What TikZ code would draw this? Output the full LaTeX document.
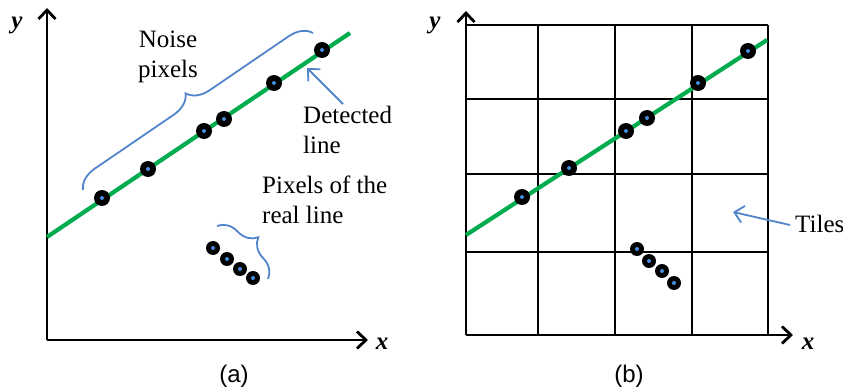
\documentclass[tikz,border=0pt]{standalone}
\usepackage{fontspec}
\setmainfont{Liberation Serif}
\newfontfamily\capfont{Liberation Sans}
\usetikzlibrary{arrows.meta,decorations.pathreplacing}
\definecolor{lgreen}{RGB}{0,172,78}
\definecolor{lblue}{RGB}{82,132,204}
\definecolor{dotblue}{RGB}{70,140,225}
\tikzset{
  axis/.style={line width=2.8pt, -{Straight Barb[length=9pt,width=17pt]}},
  gridline/.style={line width=2.1pt},
  gline/.style={lgreen, line width=4.2pt},
  pix/.style={circle, fill=black, minimum size=#1, inner sep=0pt,
    path picture={\fill[dotblue] (path picture bounding box.center) circle (2pt);}},
  pix/.default=16pt,
  barrow/.style={lblue, line width=1.8pt, -{Straight Barb[length=9pt,width=17pt]}},
  bracestyle/.style={lblue, line width=1.8pt, decorate, decoration={brace, amplitude=#1}},
  lbl/.style={font=\fontsize{25}{30}\selectfont, inner sep=0pt, align=left},
  axl/.style={font=\fontsize{25}{30}\selectfont\bfseries\itshape, inner sep=0pt},
  capstyle/.style={font=\fontsize{24}{28}\selectfont\capfont, inner sep=0pt, anchor=base},
}
\begin{document}
\begin{tikzpicture}[x=1pt,y=-1pt]
\useasboundingbox (0,0) rectangle (843,387);

% ---------------- panel (a) ----------------
\coordinate (ao) at (47,340);
\coordinate (ay) at (47,8);
\coordinate (ax) at (368,340);
\draw[axis] (ao) -- (ay);
\draw[axis] (ao) -- (ax);
\node[axl] (aylab) at (17,25) {y};
\node[axl] (axlab) at (382,344) {x};

\coordinate (ag1) at (47,237);
\coordinate (ag2) at (350,33);
\draw[gline] (ag1) -- (ag2);

\node[pix] (a1) at (102,198) {};
\node[pix] (a2) at (148,169) {};
\node[pix] (a3) at (204,131) {};
\node[pix] (a4) at (224,119) {};
\node[pix] (a5) at (274,83) {};
\node[pix] (a6) at (322,50) {};

\node[pix=14pt] (ar1) at (213,248) {};
\node[pix=14pt] (ar2) at (227,259) {};
\node[pix=14pt] (ar3) at (240,269) {};
\node[pix=14pt] (ar4) at (253,278) {};

\coordinate (ab1s) at (83,190);
\coordinate (ab1e) at (313,33);
\draw[bracestyle=22pt] (ab1s) -- (ab1e);
\coordinate (ab2s) at (217,226);
\coordinate (ab2e) at (268,279);
\draw[bracestyle=22pt] (ab2s) -- (ab2e);

\node[lbl, align=center, anchor=north] (noise) at (168,31) {Noise\\pixels};
\node[lbl, anchor=north west] (det) at (303,106) {Detected\\line};
\node[lbl, anchor=north west] (real) at (262,176) {Pixels of the\\real line};

\coordinate (adt) at (343,104);
\coordinate (adh) at (307,68);
\draw[barrow] (adt) -- (adh);

\node[capstyle] (capa) at (234,382) {(a)};

% ---------------- panel (b) ----------------
\foreach \xx in {538,615,692,768} \draw[gridline] (\xx,25) -- (\xx,335);
\foreach \yy in {25,99,174,252} \draw[gridline] (466,\yy) -- (768,\yy);
\coordinate (bo) at (466,335);
\coordinate (by) at (466,11);
\coordinate (bx) at (793,335);
\draw[axis] (bo) -- (by);
\draw[axis] (bo) -- (bx);
\node[axl] (bylab) at (435,25) {y};
\node[axl] (bxlab) at (808,344) {x};

\coordinate (bg1) at (466,235);
\coordinate (bg2) at (767,40);
\draw[gline] (bg1) -- (bg2);

\node[pix] (b1) at (522,197) {};
\node[pix] (b2) at (569,168) {};
\node[pix] (b3) at (626,131) {};
\node[pix] (b4) at (647,118) {};
\node[pix] (b5) at (698,83) {};
\node[pix] (b6) at (748,51) {};

\node[pix=14pt] (br1) at (637,249) {};
\node[pix=14pt] (br2) at (649,261) {};
\node[pix=14pt] (br3) at (662,271) {};
\node[pix=14pt] (br4) at (674,283) {};

\node[lbl, anchor=base west] (tiles) at (795,233) {Tiles};
\coordinate (btt) at (790,225);
\coordinate (bth) at (733,212);
\draw[barrow] (btt) -- (bth);

\node[capstyle] (capb) at (629,382) {(b)};
\end{tikzpicture}
\end{document}
